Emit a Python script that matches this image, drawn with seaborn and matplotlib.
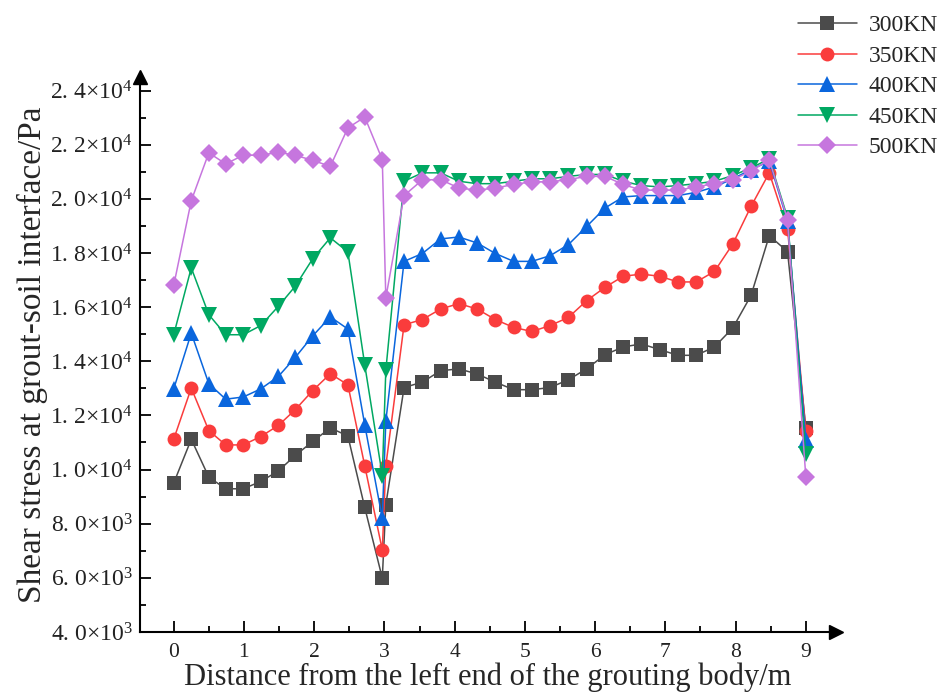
import math
import pandas as pd
import matplotlib
matplotlib.use("Agg")
import matplotlib.pyplot as plt
import seaborn as sns
from matplotlib.ticker import MultipleLocator, FuncFormatter

# posisi titik dari ujung kiri badan grouting (m)
jarak = [0, 0.25, 0.5, 0.74, 0.99, 1.24, 1.49, 1.73, 1.98, 2.23, 2.48, 2.72, 2.97,
         3.02, 3.28, 3.54, 3.80, 4.06, 4.32, 4.58, 4.84, 5.10, 5.36, 5.62, 5.88,
         6.14, 6.40, 6.66, 6.92, 7.18, 7.44, 7.70, 7.96, 8.22, 8.48, 8.74, 9.00]

# tegangan geser (Pa) tiap beban
kn300 = [9500, 11120, 9720, 9290, 9290, 9560, 9950, 10520, 11040, 11540, 11240, 8600, 5990,
         8700, 13030, 13230, 13650, 13720, 13530, 13230, 12950, 12950, 13030, 13320, 13720,
         14240, 14530, 14640, 14430, 14220, 14220, 14530, 15230, 16430, 18640, 18050, 11550]
kn350 = [11120, 13010, 11440, 10910, 10910, 11220, 11630, 12210, 12920, 13540, 13130, 10140, 7030,
         10140, 15350, 15540, 15930, 16130, 15930, 15540, 15250, 15100, 15320, 15620, 16240,
         16730, 17140, 17220, 17140, 16930, 16930, 17320, 18330, 19720, 20960, 18900, 11420]
kn400 = [12980, 15040, 13170, 12600, 12680, 12980, 13440, 14140, 14940, 15640, 15190, 11650, 8200,
         11780, 17690, 17980, 18520, 18590, 18370, 17980, 17690, 17690, 17900, 18310, 18980,
         19660, 20070, 20120, 20120, 20120, 20240, 20440, 20740, 21080, 21390, 19170, 11100]
kn450 = [14980, 17450, 15720, 14980, 14980, 15320, 16030, 16770, 17790, 18560, 18040, 13870, 9780,
         13660, 20650, 20960, 20960, 20650, 20560, 20560, 20650, 20740, 20740, 20830, 20900,
         20900, 20650, 20490, 20440, 20490, 20560, 20650, 20860, 21140, 21480, 19300, 10560]
kn500 = [16800, 19930, 21700, 21290, 21610, 21610, 21720, 21610, 21420, 21200, 22620, 23020, 21450,
         16340, 20120, 20700, 20710, 20400, 20320, 20400, 20530, 20630, 20630, 20710, 20830,
         20830, 20530, 20320, 20320, 20320, 20440, 20560, 20710, 21020, 21450, 19230, 9740]

label_beban = ["300KN", "350KN", "400KN", "450KN", "500KN"]
nilai_beban = [kn300, kn350, kn400, kn450, kn500]

warna = ["#4b4b4b", "#fa3c3c", "#0a66dd", "#00a862", "#c676de"]
penanda = ["s", "o", "^", "v", "D"]
ukuran = [9.5, 10, 11, 11, 9]

sns.set_style("ticks")
plt.rcParams["font.family"] = ["Liberation Serif", "DejaVu Serif"]
plt.rcParams["mathtext.fontset"] = "custom"
plt.rcParams["mathtext.rm"] = "Liberation Serif"
plt.rcParams["mathtext.default"] = "regular"

fig = plt.figure(figsize=(9.43, 7), dpi=100)
ax = fig.add_axes([140 / 943, 68 / 700, 696 / 943, 555 / 700])

for lbl, val, c, m, s in zip(label_beban, nilai_beban, warna, penanda, ukuran):
    df = pd.DataFrame({"x": jarak, "y": val})
    sns.lineplot(data=df, x="x", y="y", ax=ax, color=c, marker=m, markersize=s,
                 markeredgewidth=0, linewidth=1.1, label=lbl, sort=False)

ax.set_xlim(-0.48, 9.43)
ax.set_ylim(4000, 24500)

ax.xaxis.set_major_locator(MultipleLocator(1))
ax.xaxis.set_minor_locator(MultipleLocator(0.5))
ax.yaxis.set_major_locator(MultipleLocator(2000))
ax.yaxis.set_minor_locator(MultipleLocator(1000))


def format_sci(v, pos):
    e = int(math.floor(math.log10(v)))
    m = v / 10 ** e
    return f"{m:.1f}".replace(".", ". ") + "×10$^{%d}$" % e


ax.yaxis.set_major_formatter(FuncFormatter(format_sci))

sns.despine(ax=ax)
for sp in ["left", "bottom"]:
    ax.spines[sp].set_linewidth(1.5)
    ax.spines[sp].set_color("black")

ax.tick_params(which="major", direction="in", length=8, width=1.3, colors="black",
               labelcolor="#222222")
ax.tick_params(which="minor", direction="in", length=4.5, width=1.3, colors="black")
ax.tick_params(axis="x", which="major", pad=8, labelsize=15.5)
ax.tick_params(axis="y", which="major", pad=5, labelsize=17)

# panah di ujung sumbu
ax.plot(1.0, 0, ">", color="black", markersize=10, transform=ax.transAxes, clip_on=False)
ax.plot(0, 1.0, "^", color="black", markersize=10, transform=ax.transAxes, clip_on=False)

ax.set_xlabel("Distance from the left end of the grouting body/m", fontsize=22, labelpad=0)
ax.set_ylabel("Shear stress at grout-soil interface/Pa", fontsize=24, labelpad=2)

ax.get_legend().remove()
h, l = ax.get_legend_handles_labels()
fig.legend(h, l, loc="upper left", bbox_to_anchor=(786 / 943, 1 - 3 / 700), frameon=False,
           fontsize=17, handlelength=2.5, handletextpad=0.5, labelspacing=0.38, borderpad=0)

fig.savefig("out.png", dpi=100)
